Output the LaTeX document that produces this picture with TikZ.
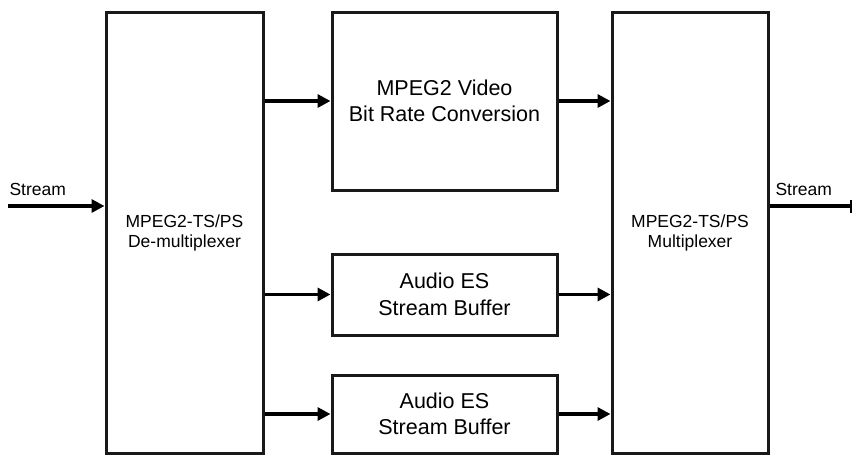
\documentclass[tikz,border=0pt]{standalone}
\usepackage{fontspec}
\setmainfont{Liberation Sans}
\usepackage{tikz}
\usetikzlibrary{arrows.meta,positioning}

\tikzset{
  block/.style={draw=black!90, line width=3pt, fill=white, align=center, inner sep=0pt},
  bigtxt/.style={font=\fontsize{21.5}{26.5}\selectfont},
  smalltxt/.style={font=\fontsize{17.5}{20}\selectfont},
  flow/.style={line width=3.5pt, -{Triangle[length=13pt,width=13pt]}},
}

\begin{document}
\begin{tikzpicture}[x=1pt,y=-1pt]
  \useasboundingbox (0,0) rectangle (853,456);

  % De-multiplexer and multiplexer
  \node[block, smalltxt, minimum width=157pt, minimum height=441pt] (demux) at (184.5,232.5) {MPEG2-TS/PS\\De-multiplexer};
  \node[block, smalltxt, minimum width=156pt, minimum height=441pt] (mux) at (690,232.5) {MPEG2-TS/PS\\Multiplexer};

  % Middle column
  \node[block, bigtxt, minimum width=225pt, minimum height=178pt] (video) at (444.5,101) {MPEG2 Video\\Bit Rate Conversion};
  \node[block, bigtxt, minimum width=225pt, minimum height=81pt] (audioA) at (444.5,294.5) {Audio ES\\Stream Buffer};
  \node[block, bigtxt, minimum width=225pt, minimum height=78pt] (audioB) at (444.5,414) {Audio ES\\Stream Buffer};

  % Input and output
  \coordinate (in) at (8,206);
  \coordinate (out) at (852,206);
  \node[smalltxt, anchor=base west] (inlbl) at (6,195) {Stream};
  \node[smalltxt, anchor=base west] (outlbl) at (772,195) {Stream};
  \draw[flow] (in) -- (in -| demux.west);
  \draw[line width=3.5pt, -{Bar[width=13pt,line width=2pt]}] (mux.east |- out) -- (out);

  % Branches
  \draw[flow] (demux.east |- video.west) -- (video.west);
  \draw[flow] (video.east) -- (video.east -| mux.west);
  \draw[flow] (demux.east |- audioA.west) -- (audioA.west);
  \draw[flow] (audioA.east) -- (audioA.east -| mux.west);
  \draw[flow] (demux.east |- audioB.west) -- (audioB.west);
  \draw[flow] (audioB.east) -- (audioB.east -| mux.west);
\end{tikzpicture}
\end{document}
